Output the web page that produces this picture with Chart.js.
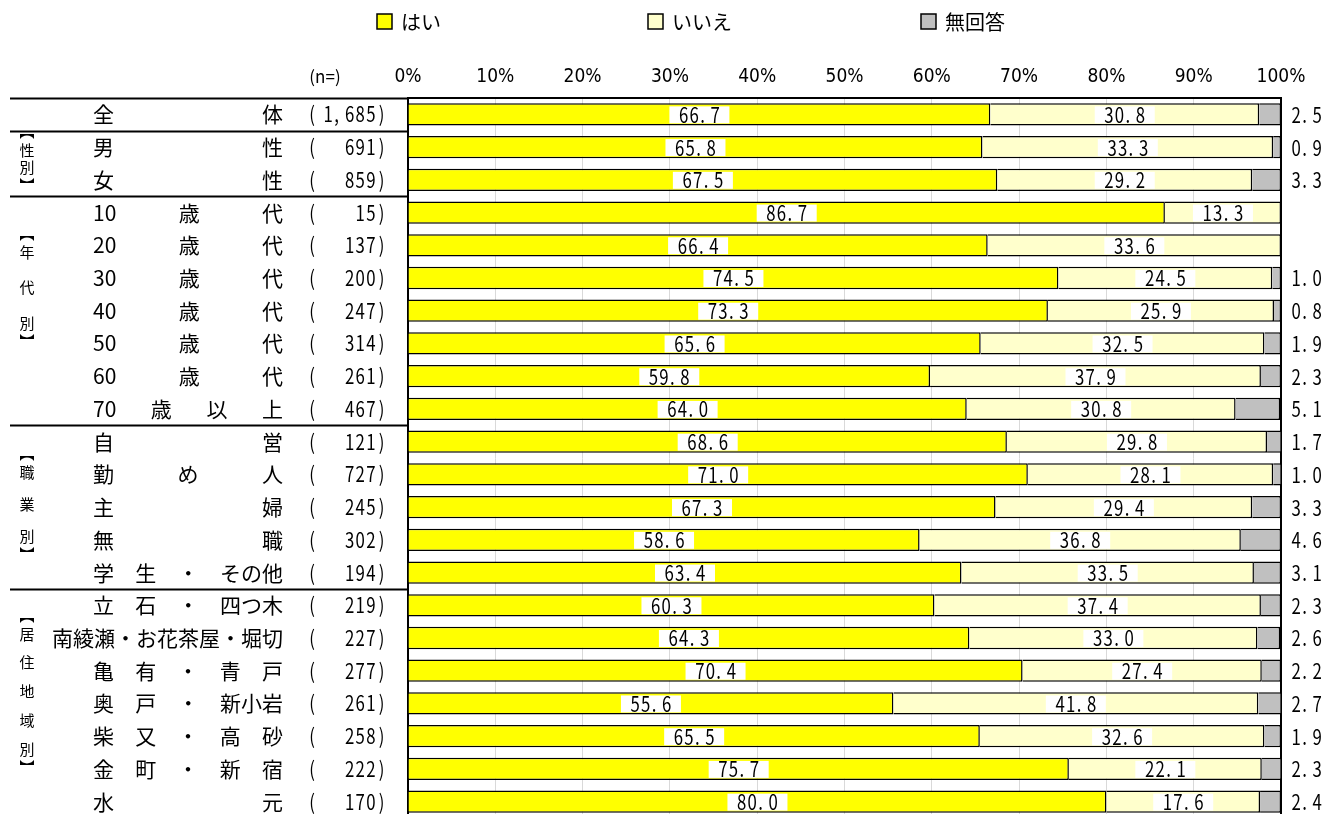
<!DOCTYPE html>
<html lang="ja">
<head>
<meta charset="utf-8">
<title>はい・いいえ 回答割合</title>
<script src="https://cdn.jsdelivr.net/npm/chart.js@4.4.1/dist/chart.umd.min.js"></script>
<style>
  html, body { margin: 0; padding: 0; background: #fff; overflow: hidden; }
  #frame { width: 1338px; height: 814px; overflow: hidden; position: relative; }
  #chart-container { width: 1338px; height: 818px; position: relative; }
</style>
</head>
<body>
<div id="frame">
  <div id="chart-container"><canvas id="myChart"></canvas></div>
</div>
<script>
// categories (spaces mark the spread-out parts of each label)
const categories = [
  '全 体', '男 性', '女 性',
  '10 歳 代', '20 歳 代', '30 歳 代', '40 歳 代', '50 歳 代', '60 歳 代', '70 歳 以 上',
  '自 営', '勤 め 人', '主 婦', '無 職', '学 生 ・ その他',
  '立 石 ・ 四つ木', '南綾瀬・お花茶屋・堀切', '亀 有 ・ 青 戸', '奥 戸 ・ 新小岩',
  '柴 又 ・ 高 砂', '金 町 ・ 新 宿', '水 元'
];
const sampleSizes = [1685, 691, 859, 15, 137, 200, 247, 314, 261, 467, 121, 727, 245, 302, 194, 219, 227, 277, 261, 258, 222, 170];

const seriesNames = ['はい', 'いいえ', '無回答'];
const yesValues = [66.7, 65.8, 67.5, 86.7, 66.4, 74.5, 73.3, 65.6, 59.8, 64.0, 68.6, 71.0, 67.3, 58.6, 63.4, 60.3, 64.3, 70.4, 55.6, 65.5, 75.7, 80.0];
const noValues = [30.8, 33.3, 29.2, 13.3, 33.6, 24.5, 25.9, 32.5, 37.9, 30.8, 29.8, 28.1, 29.4, 36.8, 33.5, 37.4, 33.0, 27.4, 41.8, 32.6, 22.1, 17.6];
const noAnswerValues = [2.5, 0.9, 3.3, 0, 0, 1.0, 0.8, 1.9, 2.3, 5.1, 1.7, 1.0, 3.3, 4.6, 3.1, 2.3, 2.6, 2.2, 2.7, 1.9, 2.3, 2.4];

const tickLabels = ['0%', '10%', '20%', '30%', '40%', '50%', '60%', '70%', '80%', '90%', '100%'];

// row groups: name and first row index
const groupNames = ['', '性別', '年代別', '職業別', '居住地域別'];
const groupStarts = [0, 1, 3, 10, 15];

// ---- layout / style ----
const JP = '"Noto Sans CJK JP", "Noto Sans", sans-serif';
const colors = ['#FFFF00', '#FFFFCC', '#C0C0C0'];
const LABEL_LEFT = 93, LABEL_RIGHT = 283;
const groupTextOffset = [0, 20, 56, 47, 45];
const groupTextGap = [0, 17, 35.5, 32, 28.8];
const legendBoxX = [377, 648, 921];

// draw a string one character per fixed cell (like a monospaced gothic font)
function drawCells(ctx, text, x, y, cell, align) {
  const chars = Array.from(text);
  const total = chars.length * cell;
  const left = align === 'right' ? x - total : align === 'center' ? x - total / 2 : x;
  ctx.textAlign = 'center';
  ctx.textBaseline = 'middle';
  chars.forEach((ch, k) => {
    const shift = (ch === '.' || ch === ',') ? -cell * 0.2 : 0;
    ctx.save();
    ctx.translate(left + cell * k + cell / 2 + shift, y);
    ctx.scale(0.8, 1);
    ctx.fillText(ch, 0, 0);
    ctx.restore();
  });
}

const surveyTable = {
  id: 'surveyTable',
  afterDatasetsDraw(chart) {
    const { ctx, chartArea } = chart;
    ctx.save();
    ctx.fillStyle = '#000';
    ctx.font = `21px ${JP}`;
    // value labels inside the bars
    [0, 1].forEach(ds => {
      chart.getDatasetMeta(ds).data.forEach((el, i) => {
        const v = chart.data.datasets[ds].data[i];
        if (!v) return;
        const p = el.getProps(['x', 'base', 'y'], true);
        const cx = (p.x + p.base) / 2;
        const txt = v.toFixed(1);
        const w = txt.length * 10.5 + 18;
        ctx.fillStyle = '#fff';
        ctx.fillRect(cx - w / 2, p.y - 8, w, 17);
        ctx.fillStyle = '#000';
        drawCells(ctx, txt, cx, p.y + 0.5, 10.5, 'center');
      });
    });
    // no-answer values to the right of the plot
    chart.getDatasetMeta(2).data.forEach((el, i) => {
      const v = chart.data.datasets[2].data[i];
      if (!v) return;
      drawCells(ctx, v.toFixed(1), chartArea.right + 10, el.y + 0.5, 10.5, 'left');
    });
    ctx.restore();
  },
  afterDraw(chart) {
    const { ctx, chartArea, scales: { y } } = chart;
    const rowH = y.getPixelForValue(1) - y.getPixelForValue(0);
    ctx.save();
    ctx.fillStyle = '#000';

    // legend
    ctx.font = `20px ${JP}`;
    chart.data.datasets.forEach((ds, k) => {
      const bx = legendBoxX[k];
      ctx.fillStyle = ds.backgroundColor;
      ctx.fillRect(bx, 14, 15, 15);
      ctx.strokeStyle = '#000';
      ctx.lineWidth = 1.5;
      ctx.strokeRect(bx, 14, 15, 15);
      ctx.fillStyle = '#000';
      ctx.textAlign = 'left';
      ctx.textBaseline = 'middle';
      ctx.fillText(ds.label, bx + 24, 22);
    });

    // header
    ctx.font = `17px ${JP}`;
    ctx.textAlign = 'center';
    ctx.textBaseline = 'middle';
    ctx.fillText('(n=)', 325, 77);

    // row labels and sample sizes
    categories.forEach((label, i) => {
      const cy = y.getPixelForValue(i);
      ctx.font = `21px ${JP}`;
      ctx.textBaseline = 'middle';
      const tokens = label.split(' ');
      const widths = tokens.map(t => ctx.measureText(t).width);
      const sum = widths.reduce((a, b) => a + b, 0);
      if (tokens.length === 1) {
        ctx.textAlign = 'right';
        ctx.fillText(tokens[0], LABEL_RIGHT, cy);
      } else {
        ctx.textAlign = 'left';
        const gap = (LABEL_RIGHT - LABEL_LEFT - sum) / (tokens.length - 1);
        let cx = LABEL_LEFT;
        tokens.forEach((t, k) => { ctx.fillText(t, cx, cy); cx += widths[k] + gap; });
      }
      drawCells(ctx, '(', 312, cy, 10.7, 'center');
      drawCells(ctx, sampleSizes[i].toLocaleString('en-US') + ')', 387, cy, 10.7, 'right');
    });

    // group separator lines
    ctx.strokeStyle = '#000';
    ctx.lineWidth = 2;
    groupStarts.forEach(g => {
      const yb = Math.round(y.getPixelForValue(g) - rowH / 2) + 0.5;
      ctx.beginPath();
      ctx.moveTo(10, yb);
      ctx.lineTo(chartArea.left, yb);
      ctx.stroke();
    });

    // vertical group names with brackets
    ctx.font = `15px ${JP}`;
    ctx.textAlign = 'center';
    ctx.textBaseline = 'middle';
    groupNames.forEach((name, k) => {
      if (!name) return;
      const top = y.getPixelForValue(groupStarts[k]) - rowH / 2;
      const chars = Array.from(name);
      const y0 = top + groupTextOffset[k];
      chars.forEach((ch, j) => ctx.fillText(ch, 27, y0 + j * groupTextGap[k]));
      const yl = y0 + (chars.length - 1) * groupTextGap[k];
      ctx.fillText('︻', 27, y0 - 19);
      ctx.fillText('︼', 27, yl + 18);
    });
    ctx.restore();
  }
};

const ctx = document.getElementById('myChart');
new Chart(ctx, {
  type: 'bar',
  data: {
    labels: categories,
    datasets: [yesValues, noValues, noAnswerValues].map((values, k) => ({
      label: seriesNames[k],
      data: values,
      backgroundColor: colors[k],
      borderColor: '#000',
      borderWidth: 1.5,
      barPercentage: 0.68,
      categoryPercentage: 1
    }))
  },
  options: {
    indexAxis: 'y',
    responsive: true,
    maintainAspectRatio: false,
    animation: false,
    layout: { padding: { top: 56, right: 57, bottom: 0, left: 0 } },
    plugins: {
      legend: { display: false },
      tooltip: { enabled: false }
    },
    scales: {
      x: {
        position: 'top',
        stacked: true,
        min: 0,
        max: 100,
        afterFit: scale => { scale.height = 42; },
        ticks: {
          stepSize: 10,
          padding: 10,
          color: '#000',
          font: { family: '"Liberation Sans Narrow", "DejaVu Sans Condensed", ' + JP, size: 19 },
          callback: (value, index) => tickLabels[index]
        },
        grid: {
          drawTicks: false,
          color: c => (c.tick && c.tick.value === 100) ? '#000' : '#d9d9d9',
          lineWidth: c => (c.tick && c.tick.value === 100) ? 2 : 1
        },
        border: { display: true, color: '#000', width: 2 }
      },
      y: {
        stacked: true,
        afterFit: scale => { scale.width = 408; },
        ticks: { display: false },
        grid: { display: false },
        border: { display: true, color: '#000', width: 2 }
      }
    }
  },
  plugins: [surveyTable]
});
</script>
</body>
</html>
